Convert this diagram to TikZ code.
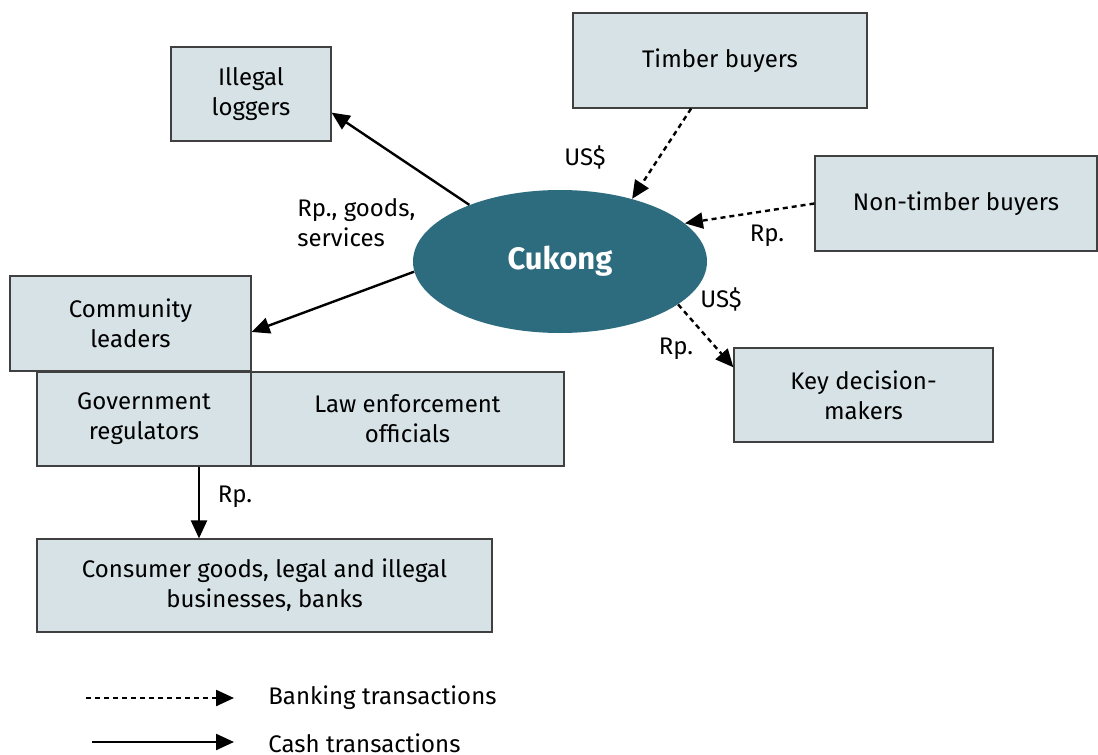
\documentclass[tikz,border=0pt]{standalone}
\usepackage{fontspec}
\setmainfont{Fira Sans}
\usepackage{tikz}
\usepackage{xcolor}
\usetikzlibrary{shapes, arrows.meta}

\definecolor{boxfill}{RGB}{214,226,230}
\definecolor{cukongblue}{RGB}{45,107,127}

\begin{document}
\begin{tikzpicture}[x=0.5pt, y=-0.5pt,
        actor/.style={rectangle, draw=black!75, line width=0.6pt, fill=boxfill,
            align=center, font=\fontsize{12}{15}\selectfont, inner sep=0pt},
        lbl/.style={font=\fontsize{12}{15}\selectfont, inner sep=0pt},
        cash/.style={line width=1.2pt, -{Triangle[length=9pt, width=8pt]}},
        bank/.style={line width=1.2pt, dash pattern=on 2.5pt off 2pt,
            -{Triangle[length=9pt, width=8pt]}}]
        \useasboundingbox (0, 0) rectangle (1098, 755);

        \node[ellipse, fill=cukongblue, minimum width=147pt, minimum height=71.5pt,
            text=white, font=\bfseries\fontsize{15.5}{18}\selectfont] (cukong) at (560, 261.5) {Cukong};

        \node[actor, minimum width=80pt, minimum height=47pt] (loggers) at (251, 94) {Illegal\\loggers};
        \node[actor, minimum width=147pt, minimum height=47.5pt] (timber) at (720, 60.5) {Timber buyers};
        \node[actor, minimum width=141pt, minimum height=47.5pt] (nontimber) at (956, 203.5) {Non-timber buyers};
        \node[actor, minimum width=120.5pt, minimum height=47.5pt] (community) at (130.5, 323.5) {Community\\leaders};
        \node[actor, minimum width=107pt, minimum height=47pt] (govt) at (144, 419) {Government\\regulators};
        \node[actor, minimum width=156.5pt, minimum height=47pt] (law) at (407.5, 419) {Law enforcement\\officials};
        \node[actor, minimum width=129.5pt, minimum height=47pt] (keydm) at (863.5, 395) {Key decision-\\makers};
        \node[actor, minimum width=227.5pt, minimum height=46.5pt] (consumer) at (264.5, 585.5) {Consumer goods, legal and illegal\\businesses, banks};

        \draw[cash] (cukong.148) to (loggers.-13);
        \draw[cash] (cukong.184.5) to (community.-4.5);
        \draw[bank] (timber.239) to (cukong.41);
        \draw[bank] (nontimber.west) to (cukong.17.5);
        \draw[bank] (cukong.-20.7) to (keydm.168);
        \draw[cash] (govt.south -| 199, 0) to (consumer.north -| 199, 0);

        \node[lbl] (l1) at (585, 157) {US\$};
        \node[lbl, align=left, anchor=west] (l2) at (297, 223) {Rp., goods,\\services};
        \node[lbl] (l3) at (767, 236) {Rp.};
        \node[lbl] (l4) at (721, 299) {US\$};
        \node[lbl] (l5) at (676, 349) {Rp.};
        \node[lbl] (l6) at (235, 497) {Rp.};

        % legend
        \coordinate (bs) at (86, 698);
        \coordinate (be) at (234, 698);
        \coordinate (cs) at (92, 742);
        \coordinate (ce) at (234, 742);
        \draw[bank] (bs) to (be);
        \draw[cash] (cs) to (ce);
        \node[lbl, anchor=west] (bank) at (268, 698) {Banking transactions};
        \node[lbl, anchor=west] (cashtxt) at (268, 743) {Cash transactions};
\end{tikzpicture}
\end{document}
